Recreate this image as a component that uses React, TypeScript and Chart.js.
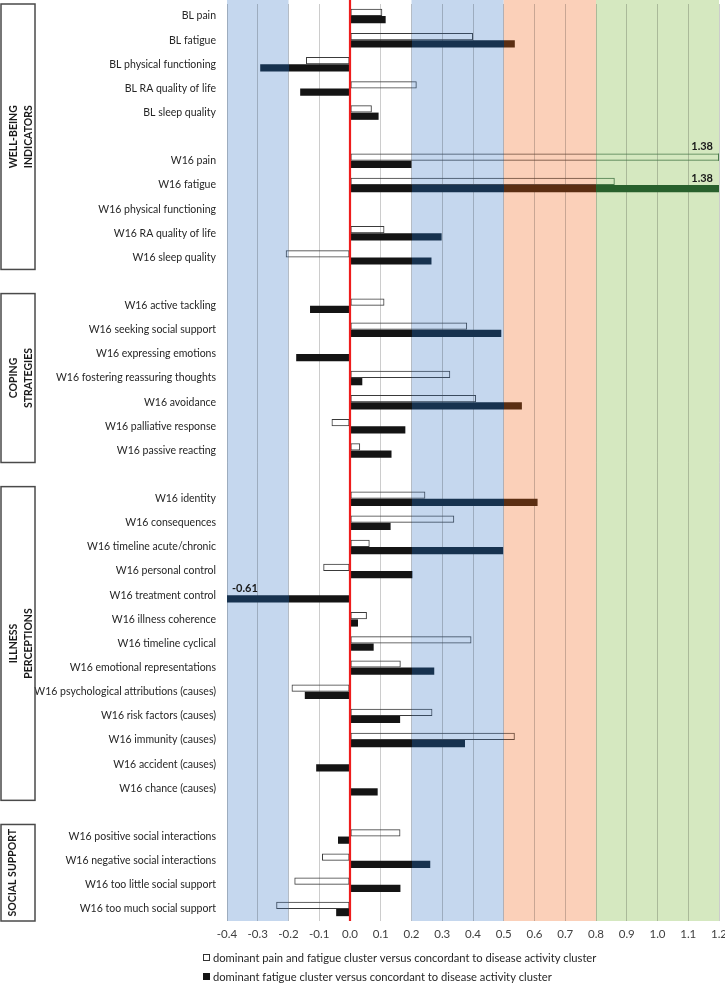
import { useEffect, useRef } from "react";
import { Chart, registerables } from "chart.js";

Chart.register(...registerables);

// ---------- data ----------
const categories = [
  "BL pain",
  "BL fatigue",
  "BL physical functioning",
  "BL RA quality of life",
  "BL sleep quality",
  "",
  "W16 pain",
  "W16 fatigue",
  "W16 physical functioning",
  "W16 RA quality of life",
  "W16 sleep quality",
  "",
  "W16 active tackling",
  "W16 seeking social support",
  "W16 expressing emotions",
  "W16 fostering reassuring thoughts",
  "W16 avoidance",
  "W16 palliative response",
  "W16 passive reacting",
  "",
  "W16 identity",
  "W16 consequences",
  "W16 timeline acute/chronic",
  "W16 personal control",
  "W16 treatment control",
  "W16 illness coherence",
  "W16 timeline cyclical",
  "W16 emotional representations",
  "W16 psychological attributions (causes)",
  "W16 risk factors (causes)",
  "W16 immunity (causes)",
  "W16 accident (causes)",
  "W16 chance (causes)",
  "",
  "W16 positive social interactions",
  "W16 negative social interactions",
  "W16 too little social support",
  "W16 too much social support",
];

const painFatigueValues: (number | null)[] = [
  0.105, 0.4, -0.143, 0.217, 0.071, null,
  1.38, 0.861, null, 0.112, -0.209, null,
  0.112, 0.381, null, 0.326, 0.41, -0.06, 0.033, null,
  0.245, 0.339, 0.064, -0.087, null, 0.055, 0.395, 0.165, -0.19, 0.268, 0.536, null, null, null,
  0.164, -0.091, -0.181, -0.24,
];

const fatigueValues: (number | null)[] = [
  0.116, 0.536, -0.292, -0.162, 0.093, null,
  0.2, 1.38, null, 0.298, 0.265, null,
  -0.13, 0.492, -0.175, 0.04, 0.559, 0.18, 0.135, null,
  0.61, 0.132, 0.498, 0.203, -0.61, 0.026, 0.077, 0.274, -0.147, 0.163, 0.374, -0.11, 0.09, null,
  -0.039, 0.261, 0.164, -0.045,
];

const seriesNames = [
  "dominant pain and fatigue cluster versus concordant to disease activity cluster",
  "dominant fatigue cluster versus concordant to disease activity cluster",
];

const xMin = -0.4;
const xMax = 1.2;
const xStep = 0.1;

const groups = [
  { lines: ["WELL-BEING", "INDICATORS"], from: 0, to: 10 },
  { lines: ["COPING", "STRATEGIES"], from: 12, to: 18 },
  { lines: ["ILLNESS", "PERCEPTIONS"], from: 20, to: 32 },
  { lines: ["SOCIAL SUPPORT"], from: 34, to: 37 },
];

// ---------- styles ----------
const bandEdges = [-0.4, -0.2, 0.2, 0.5, 0.8, 1.2];
const bandFills: (string | null)[] = ["#c5d7ee", null, "#c5d7ee", "#fbd0b9", "#d5e8c0"];
const darkBarFills = ["#17324f", "#141414", "#17324f", "#5b2e12", "#28602c"];
const outlineColors = ["#3a4a5e", "#3a3a3a", "#3a4a5e", "#6a4a38", "#4a7a4a"];
const FONT = "Lato, 'Liberation Sans', sans-serif";

function bandGradient(chart: any, colors: string[]) {
  const area = chart.chartArea;
  if (!area) return colors[1];
  const xs = chart.scales.x;
  const x0 = xs.getPixelForValue(bandEdges[0]);
  const x1 = xs.getPixelForValue(bandEdges[bandEdges.length - 1]);
  const g = chart.ctx.createLinearGradient(x0, 0, x1, 0);
  for (let i = 0; i < colors.length; i++) {
    const a = (xs.getPixelForValue(bandEdges[i]) - x0) / (x1 - x0);
    const b = (xs.getPixelForValue(bandEdges[i + 1]) - x0) / (x1 - x0);
    g.addColorStop(Math.max(0, Math.min(1, a)), colors[i]);
    g.addColorStop(Math.max(0, Math.min(1, b)), colors[i]);
  }
  return g;
}

const bandsPlugin = {
  id: "bands",
  beforeDraw(chart: any) {
    const { ctx, chartArea } = chart;
    const xs = chart.scales.x;
    ctx.save();
    for (let i = 0; i < bandFills.length; i++) {
      const f = bandFills[i];
      if (!f) continue;
      const l = xs.getPixelForValue(bandEdges[i]);
      const r = xs.getPixelForValue(bandEdges[i + 1]);
      ctx.fillStyle = f;
      ctx.fillRect(l, 0, r - l, chartArea.bottom);
    }
    ctx.restore();
  },
  afterDatasetsDraw(chart: any) {
    const { ctx, chartArea } = chart;
    const xs = chart.scales.x;
    // zero line
    const x0 = xs.getPixelForValue(0);
    ctx.save();
    ctx.strokeStyle = "#ee1c1c";
    ctx.lineWidth = 2.2;
    ctx.beginPath();
    ctx.moveTo(x0, 0);
    ctx.lineTo(x0, chartArea.bottom);
    ctx.stroke();
    // labels for bars cut off by the axis range
    ctx.font = `bold 11px ${FONT}`;
    ctx.fillStyle = "#1a1a1a";
    ctx.textBaseline = "bottom";
    chart.data.datasets.forEach((ds: any, di: number) => {
      const meta = chart.getDatasetMeta(di);
      ds.data.forEach((v: number | null, i: number) => {
        if (v == null) return;
        const bar = meta.data[i] as any;
        const top = bar.y - bar.height / 2;
        if (v > xs.max) {
          if (di === 0) {
            ctx.strokeStyle = outlineColors[outlineColors.length - 1];
            ctx.lineWidth = 1;
            ctx.beginPath();
            ctx.moveTo(chartArea.right - 0.5, top);
            ctx.lineTo(chartArea.right - 0.5, top + bar.height);
            ctx.stroke();
          }
          ctx.textAlign = "right";
          ctx.fillText(v.toFixed(2), chartArea.right - 6, top - 1.5);
        } else if (v < xs.min) {
          ctx.textAlign = "left";
          ctx.fillText(v.toFixed(2), chartArea.left + 5, top - 1.5);
        }
      });
    });
    ctx.restore();
  },
  afterDraw(chart: any) {
    const { ctx, chartArea } = chart;
    const ys = chart.scales.y;
    const step = ys.getPixelForValue(1) - ys.getPixelForValue(0);
    ctx.save();
    // group boxes
    groups.forEach((g) => {
      const top = ys.getPixelForValue(g.from) - step / 2;
      const bottom = ys.getPixelForValue(g.to) + step / 2;
      ctx.strokeStyle = "#4a4a4a";
      ctx.lineWidth = 1.5;
      const t = Math.max(1, top);
      ctx.strokeRect(1, t, 34, bottom - t);
      const cy = (t + bottom) / 2;
      ctx.save();
      ctx.translate(0, cy);
      ctx.rotate(-Math.PI / 2);
      ctx.font = `bold 10.5px ${FONT}`;
      ctx.fillStyle = "#1a1a1a";
      ctx.textAlign = "center";
      ctx.textBaseline = "middle";
      if (g.lines.length === 2) {
        ctx.fillText(g.lines[0], 0, 13.5);
        ctx.fillText(g.lines[1], 0, 28.5);
      } else {
        ctx.fillText(g.lines[0], 0, 13);
      }
      ctx.restore();
    });
    // legend
    ctx.font = `11.2px ${FONT}`;
    ctx.textAlign = "left";
    ctx.textBaseline = "middle";
    seriesNames.forEach((name, i) => {
      const cy = chartArea.bottom + 37 + i * 19;
      if (i === 0) {
        ctx.fillStyle = "#ffffff";
        ctx.fillRect(203.5, cy - 3.5, 6, 6);
        ctx.strokeStyle = "#333";
        ctx.lineWidth = 1;
        ctx.strokeRect(203.5, cy - 3.5, 6, 6);
      } else {
        ctx.fillStyle = "#141414";
        ctx.fillRect(203, cy - 4, 7, 7);
      }
      ctx.fillStyle = "#262626";
      ctx.fillText(name, 213, cy);
    });
    ctx.restore();
  },
};

export default function App() {
  const canvasRef = useRef<HTMLCanvasElement | null>(null);

  useEffect(() => {
    document.body.style.margin = "0";
    const canvas = canvasRef.current;
    if (!canvas) return;
    const chart = new Chart(canvas, {
      type: "bar",
      data: {
        labels: categories,
        datasets: [
          {
            label: seriesNames[0],
            data: painFatigueValues,
            backgroundColor: "rgba(255,255,255,0)",
            borderColor: (c: any) => bandGradient(c.chart, outlineColors),
            borderWidth: 1,
            borderSkipped: false,
            categoryPercentage: 0.6,
            barPercentage: 1.0,
          },
          {
            label: seriesNames[1],
            data: fatigueValues,
            backgroundColor: (c: any) => bandGradient(c.chart, darkBarFills),
            borderWidth: 0,
            categoryPercentage: 0.6,
            barPercentage: 1.0,
          },
        ],
      },
      options: {
        indexAxis: "y",
        animation: false,
        responsive: true,
        maintainAspectRatio: false,
        layout: { padding: { top: 4, right: 0, bottom: 0, left: 0 } },
        plugins: {
          legend: { display: false },
          tooltip: { enabled: false },
        },
        scales: {
          x: {
            type: "linear",
            min: xMin,
            max: xMax,
            border: { display: false },
            grid: {
              drawTicks: false,
              color: (c: any) =>
                c.tick && Math.abs(c.tick.value) < 1e-9 ? "rgba(0,0,0,0)" : "rgba(0,0,0,0.2)",
              lineWidth: 1,
            },
            ticks: {
              stepSize: xStep,
              padding: 6,
              color: "#404040",
              font: { family: FONT, size: 11.5 },
              callback: (v: any) => Number(v).toFixed(1),
            },
            afterFit: (s: any) => {
              s.height = 63;
              s.paddingLeft = 0;
              s.paddingRight = 6;
            },
          },
          y: {
            type: "category",
            border: { display: false },
            grid: { display: false, drawTicks: false },
            ticks: {
              autoSkip: false,
              padding: 11,
              color: "#262626",
              font: { family: FONT, size: 10.5 },
            },
            afterFit: (s: any) => {
              s.width = 227;
              s.paddingTop = 0;
              s.paddingBottom = 0;
            },
          },
        },
      },
      plugins: [bandsPlugin],
    });
    return () => chart.destroy();
  }, []);

  return (
    <div style={{ width: 725, height: 984, position: "relative" }}>
      <canvas ref={canvasRef} />
    </div>
  );
}
